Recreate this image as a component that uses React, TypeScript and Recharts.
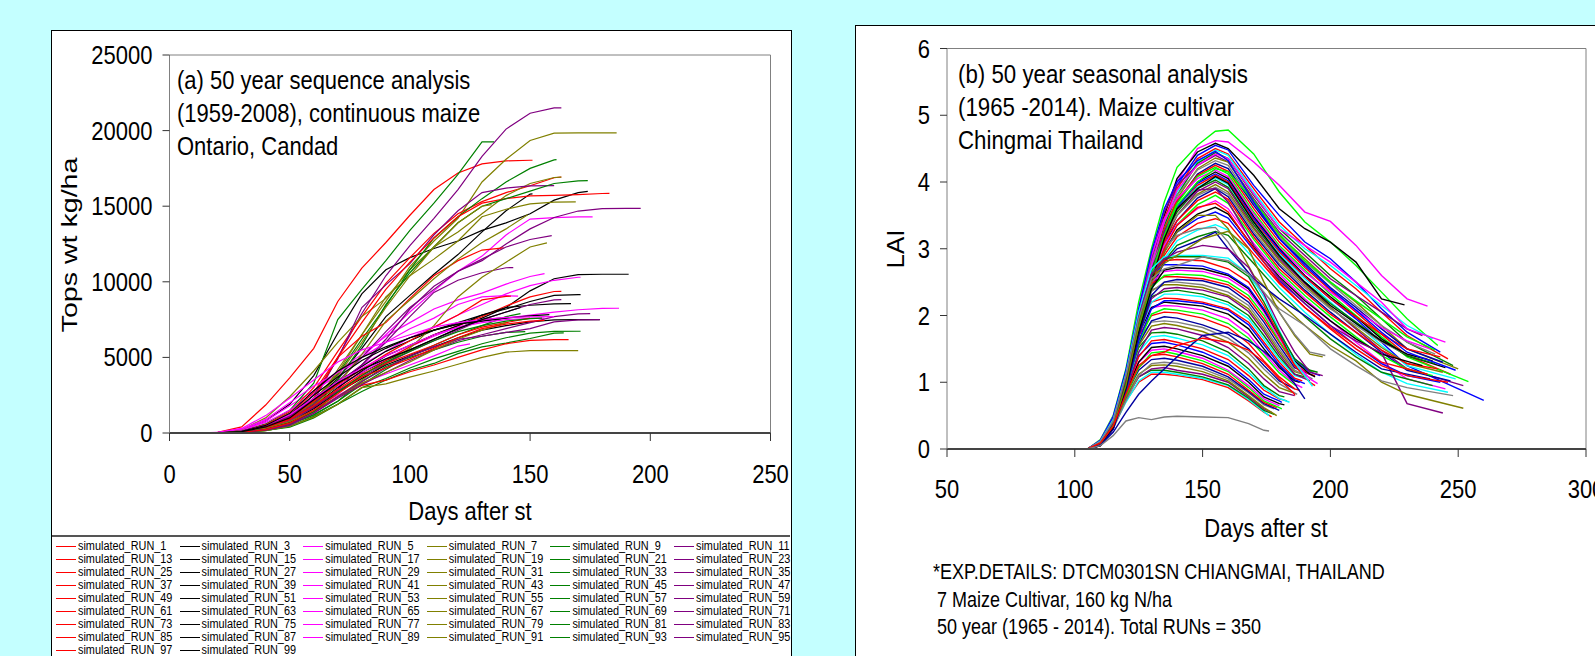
import { Legend, Line, LineChart, ReferenceLine, XAxis, YAxis } from "recharts"

const FONT = "'Liberation Sans', Arial, sans-serif"

// (a) Tops weight, read at these days; each run then ends at its own last day
const GROWTH_DAYS = [10, 20, 30, 40, 50, 60, 70, 80, 90, 100, 110, 120, 130, 140, 150, 160, 170, 180, 190]
const RUN_COLORS = ["#ff0000", "#000000", "#ff00ff", "#808000", "#008000", "#800080"]
const X_TICKS_A = [0, 50, 100, 150, 200, 250]
const Y_TICKS_A = [0, 5000, 10000, 15000, 20000, 25000]

const RED_TOPS = [
  [0, 40, 400, 1850, 3650, 5600, 8700, 10900, 12600, 14400, 16100, 17200, 17800, 18000, 18040],
  [0, 20, 120, 550, 1400, 3000, 5400, 7700, 9900, 11600, 13200, 14500, 15300, 15900, 16350, 16880],
  [0, 15, 90, 450, 1200, 2700, 5000, 7300, 9500, 11300, 12900, 14300, 15200, 15500, 15680, 15720, 15770, 15840],
  [0, 10, 60, 300, 800, 2300, 5000, 6400, 7300, 8900, 10400, 11400, 12100],
  [0, 10, 60, 280, 800, 1700, 2800, 3800, 4800, 5700, 6500, 7100, 7700, 8400, 9000, 9360],
  [0, 15, 90, 400, 1000, 2100, 3200, 4200, 5200, 6100, 7000, 7800, 8800, 9040],
  [0, 5, 40, 200, 600, 1400, 2400, 3150, 3500, 4050, 4500, 5000, 5500, 5900, 6130, 6170],
  [0, 10, 70, 320, 900, 1800, 2900, 3900, 4600, 5200, 5800, 6500, 7000, 7300],
  [0, 5, 40, 220, 650, 1500, 2600, 3700, 4300, 4900, 5600, 6300, 6900, 7200, 7400],
]
const RED_LAST = [[151, 18040], [163, 16930], [183, 15850], [139, 12240], [163, 9370], [142, 9050], [166, 6170], [150, 7600], [156, 7450]]

const BLACK_TOPS = [
  [0, 20, 180, 800, 1900, 3800, 6600, 9200, 10800, 11600, 12200, 12700, 13400, 13900, 14500, 15400, 15900],
  [0, 10, 80, 350, 900, 2100, 3600, 5600, 7700, 9100, 10500, 11800, 13300, 14700, 15800],
  [0, 10, 70, 300, 850, 2000, 3100, 4000, 4800, 5500, 6200, 6900, 7600, 8300, 9400, 10200, 10480, 10500, 10500],
  [0, 15, 100, 450, 1100, 2300, 3400, 4400, 5400, 6100, 6800, 7300, 7800, 8200, 8700, 9100, 9150],
  [0, 10, 60, 280, 800, 1800, 3000, 4100, 5100, 5800, 6500, 7100, 7800, 8300, 8450, 8540],
  [0, 20, 130, 500, 1200, 2500, 3700, 4800, 5600, 6300, 6800, 7200, 7400, 7600, 7750],
  [0, 8, 50, 250, 700, 1600, 2700, 3600, 4500, 5100, 5700, 6300, 6800, 7100, 7350, 7480, 7500],
  [0, 15, 110, 500, 1300, 2800, 4100, 5000, 5700, 6300, 6800, 7200, 7500],
  [0, 12, 90, 400, 1000, 2200, 3300, 4200, 4900, 5500, 6200, 6900, 7500, 8000],
]
const BLACK_LAST = [[174, 15980], [151, 15810], [191, 10500], [171, 9150], [167, 8560], [158, 7830], [179, 7500], [138, 7600], [146, 8300]]

const MAGENTA_TOPS = [
  [0, 30, 200, 800, 1800, 2800, 3800, 5000, 6500, 8000, 9400, 10700, 11700, 13100, 14150, 14250, 14290],
  [0, 25, 180, 700, 1500, 2600, 4100, 5200, 6400, 7300, 8200, 8800, 9250, 9850, 10350],
  [0, 10, 80, 400, 1000, 2100, 3300, 4500, 5400, 6300, 7000, 7800, 8500, 9200, 9750, 10100, 10300],
  [0, 15, 100, 450, 1050, 2200, 3100, 4000, 4900, 5700, 6400, 7000, 7400, 7600, 7800, 8000, 8150, 8240],
  [0, 35, 260, 900, 2000, 3100, 4000, 5000, 6000, 6900, 7600, 8500, 9000, 9080],
  [0, 10, 70, 300, 800, 1600, 2500, 3300, 3900, 4500, 5100, 5750],
  [0, 18, 120, 500, 1200, 2300, 3400, 4300, 5100, 5800, 6500, 7000, 7300, 7500, 7580],
  [0, 40, 300, 1150, 2300, 3500, 4700, 5500, 6000, 6500, 7000, 7300, 7500, 7650, 7680],
]
const MAGENTA_LAST = [[176, 14290], [156, 10540], [171, 10300], [187, 8250], [145, 9050], [125, 5890], [156, 7600], [160, 7700]]

const OLIVE_TOPS = [
  [0, 8, 60, 250, 700, 1700, 4200, 6500, 8700, 11000, 12700, 14200, 16600, 18100, 19350, 19830, 19850, 19850],
  [0, 30, 220, 1000, 2400, 4100, 6000, 7700, 8900, 10800, 12300, 13300, 14500, 15700, 16500, 16900],
  [0, 10, 70, 320, 900, 2100, 4000, 6500, 9000, 10400, 11500, 12700, 14300, 14800, 15150, 15270],
  [0, 10, 80, 350, 900, 2000, 3800, 6000, 8300, 10400, 12300, 13900, 15000],
  [0, 8, 60, 280, 800, 1800, 3200, 5200, 7400, 8800, 10200, 11500, 12600, 13500],
  [0, 8, 50, 220, 650, 1400, 2400, 3500, 4600, 5600, 7100, 9000, 10300, 11300, 12300],
  [0, 5, 30, 150, 450, 1050, 1900, 3000, 3250, 3700, 4100, 4550, 5000, 5350, 5450, 5450],
  [0, 10, 70, 300, 750, 1500, 2400, 3300, 4000, 4700, 5500, 6200, 6800],
]
const OLIVE_LAST = [[186, 19850], [163, 16920], [169, 15280], [134, 15100], [149, 14440], [157, 12570], [170, 5450], [140, 7300]]

const GREEN_TOPS = [
  [0, 20, 140, 600, 1500, 3300, 7500, 9500, 11400, 13400, 15200, 17100, 19250],
  [0, 10, 80, 350, 900, 2000, 3900, 6200, 8400, 10800, 12900, 14300, 15500, 16600, 17500, 18060],
  [0, 8, 60, 280, 800, 1900, 3500, 5800, 8500, 10600, 12300, 13900, 15000, 15500, 16000, 16500, 16680],
  [0, 8, 50, 220, 600, 1200, 2100, 3200, 4200, 5100, 5800, 6500, 7100, 7700],
  [0, 5, 30, 160, 450, 1100, 1900, 3000, 3600, 4300, 4900, 5400, 5900, 6300, 6600, 6720, 6730],
  [0, 5, 35, 170, 380, 1000, 1900, 2750, 3500, 4150, 4600, 5250, 5700, 5950, 6250, 6600],
  [0, 6, 40, 200, 550, 1200, 2100, 3400, 4400, 5000, 5500, 6000, 6400, 6650],
  [0, 8, 55, 240, 650, 1400, 2700, 3800, 4700, 5400, 6100, 6700, 7100, 7400, 7560],
]
const GREEN_LAST = [[135, 19250], [161, 18080], [174, 16690], [146, 7890], [171, 6730], [164, 6620], [148, 6700], [155, 7600]]

const PURPLE_TOPS = [
  [0, 10, 80, 350, 900, 2100, 5000, 7900, 10400, 12400, 14200, 16100, 18300, 20100, 21150, 21500],
  [0, 12, 90, 400, 1000, 2500, 4900, 8300, 9800, 11200, 13100, 14700, 15900, 16200, 16350],
  [0, 10, 70, 300, 800, 1700, 2900, 4500, 6200, 8200, 9700, 10700, 11400, 12500, 13500, 14250, 14680, 14840, 14860],
  [0, 10, 70, 320, 900, 1900, 3400, 5000, 6700, 8300, 9500, 10700, 11500, 12300, 12800],
  [0, 15, 100, 450, 1100, 2200, 3300, 4500, 6000, 7700, 9300, 10100, 10600, 10930],
  [0, 10, 70, 300, 800, 1700, 2800, 3700, 4600, 5400, 6100, 6800, 7500, 8000, 8500, 8800],
  [0, 6, 40, 190, 500, 1300, 2300, 3200, 4000, 4800, 5500, 6100, 6500, 6900, 7300, 7700, 7880],
  [0, 8, 50, 240, 600, 1300, 2400, 3400, 4300, 5100, 5700, 6200, 6400, 6650, 6900, 7350, 7480],
]
const PURPLE_LAST = [[163, 21500], [160, 16360], [196, 14860], [159, 13050], [143, 10940], [163, 8820], [175, 7890], [179, 7500]]

// (b) LAI. Rows are: last day, LAI on that day, then the LAI read on the day list
const X_TICKS_B = [50, 100, 150, 200, 250, 300]
const Y_TICKS_B = [0, 1, 2, 3, 4, 5, 6]
const LATE_DAYS = [105, 110, 115, 120, 125, 130, 135, 140, 148, 155, 160, 170, 180, 190, 200, 210, 220, 230]
const EARLY_DAYS = [105, 110, 115, 120, 125, 130, 135, 140, 150, 160, 168, 174, 180, 186, 192]
const LATE_LAI = [
  [242, 1.55, 0, 0.14, 0.5, 1.2, 2.2, 3.0, 3.7, 4.22, 4.55, 4.76, 4.78, 4.42, 3.85, 3.4, 3.1, 2.75, 2.35, 1.95],
  [238, 2.14, 0, 0.12, 0.45, 1.1, 2.0, 2.9, 3.5, 4.0, 4.5, 4.62, 4.6, 4.3, 3.95, 3.55, 3.41, 3.05, 2.6, 2.25],
  [229, 2.16, 0, 0.1, 0.4, 1.05, 2.0, 2.8, 3.5, 4.05, 4.45, 4.58, 4.5, 4.1, 3.6, 3.3, 3.1, 2.8, 2.25],
  [243, 1.45, 0, 0.08, 0.38, 1.0, 1.9, 2.75, 3.4, 3.95, 4.4, 4.55, 4.48, 3.95, 3.5, 3.1, 2.85, 2.5, 2.1, 1.75],
  [246, 1.35, 0, 0.1, 0.42, 1.08, 1.95, 2.7, 3.45, 3.9, 4.35, 4.5, 4.42, 3.9, 3.4, 3.05, 2.7, 2.4, 2.05, 1.7],
  [240, 1.65, 0, 0.06, 0.35, 0.95, 1.85, 2.65, 3.3, 3.85, 4.3, 4.48, 4.4, 3.85, 3.35, 3.0, 2.75, 2.45, 2.15, 1.85],
  [248, 1.25, 0, 0.09, 0.4, 1.02, 1.88, 2.7, 3.35, 3.8, 4.28, 4.44, 4.35, 3.8, 3.3, 2.95, 2.6, 2.3, 1.95, 1.6],
  [236, 1.7, 0, 0.12, 0.46, 1.12, 2.05, 2.85, 3.55, 3.95, 4.25, 4.4, 4.3, 3.75, 3.25, 2.9, 2.55, 2.3, 2.05, 1.8],
  [250, 1.2, 0, 0.07, 0.36, 0.98, 1.82, 2.6, 3.25, 3.75, 4.2, 4.36, 4.3, 3.72, 3.2, 2.85, 2.5, 2.2, 1.85, 1.5],
  [241, 1.42, 0, 0.11, 0.44, 1.1, 1.98, 2.8, 3.4, 3.8, 4.18, 4.32, 4.25, 3.68, 3.18, 2.8, 2.48, 2.15, 1.85, 1.6],
  [244, 1.3, 0, 0.05, 0.32, 0.9, 1.75, 2.55, 3.2, 3.7, 4.12, 4.28, 4.2, 3.65, 3.15, 2.78, 2.42, 2.12, 1.8, 1.5],
  [247, 1.12, 0, 0.09, 0.4, 1.02, 1.9, 2.65, 3.3, 3.72, 4.1, 4.25, 4.16, 3.6, 3.1, 2.72, 2.38, 2.05, 1.72, 1.4],
  [254, 1.01, 0, 0.08, 0.38, 0.98, 1.85, 2.6, 3.25, 3.68, 4.08, 4.22, 4.12, 3.55, 3.05, 2.68, 2.32, 2.0, 1.68, 1.38],
  [239, 1.5, 0, 0.13, 0.48, 1.15, 2.1, 2.9, 3.45, 3.75, 4.05, 4.18, 4.08, 3.52, 3.02, 2.65, 2.35, 2.08, 1.82, 1.62],
  [245, 1.22, 0, 0.06, 0.34, 0.92, 1.78, 2.55, 3.18, 3.62, 4.0, 4.15, 4.05, 3.48, 3.0, 2.6, 2.28, 1.98, 1.65, 1.4],
  [260, 0.73, 0, 0.1, 0.42, 1.05, 1.92, 2.65, 3.25, 3.62, 3.98, 4.12, 4.02, 3.45, 2.98, 2.58, 2.25, 1.95, 1.6, 1.25],
  [243, 1.38, 0, 0.07, 0.36, 0.95, 1.8, 2.55, 3.15, 3.58, 3.95, 4.1, 4.0, 3.42, 2.95, 2.58, 2.25, 1.98, 1.72, 1.5],
  [249, 1.05, 0, 0.09, 0.4, 1.0, 1.85, 2.6, 3.2, 3.6, 3.92, 4.06, 3.96, 3.4, 2.92, 2.55, 2.2, 1.88, 1.55, 1.25],
  [241, 1.28, 0, 0.11, 0.44, 1.08, 1.95, 2.7, 3.22, 3.55, 3.9, 4.03, 3.92, 3.36, 2.88, 2.5, 2.18, 1.9, 1.62, 1.4],
  [252, 0.95, 0, 0.05, 0.3, 0.88, 1.72, 2.48, 3.1, 3.5, 3.86, 4.0, 3.9, 3.32, 2.85, 2.48, 2.12, 1.8, 1.48, 1.2],
  [244, 1.15, 0, 0.08, 0.38, 0.98, 1.82, 2.58, 3.15, 3.5, 3.82, 3.96, 3.85, 3.3, 2.82, 2.45, 2.12, 1.82, 1.52, 1.28],
  [238, 1.35, 0, 0.12, 0.46, 1.12, 2.0, 2.75, 3.2, 3.5, 3.8, 3.92, 3.82, 3.26, 2.78, 2.42, 2.1, 1.85, 1.6, 1.42],
  [247, 1.02, 0, 0.06, 0.34, 0.9, 1.75, 2.5, 3.05, 3.42, 3.76, 3.9, 3.78, 3.22, 2.75, 2.38, 2.05, 1.75, 1.45, 1.18],
  [242, 1.2, 0, 0.1, 0.42, 1.02, 1.88, 2.6, 3.1, 3.42, 3.72, 3.85, 3.74, 3.18, 2.7, 2.35, 2.02, 1.75, 1.48, 1.28],
  [240, 1.1, 0, 0.07, 0.36, 0.95, 1.78, 2.5, 3.02, 3.36, 3.66, 3.8, 3.68, 3.14, 2.66, 2.3, 1.98, 1.68, 1.4, 1.2],
  [245, 0.9, 0, 0.09, 0.4, 1.0, 1.82, 2.55, 3.05, 3.36, 3.6, 3.72, 3.6, 3.08, 2.62, 2.25, 1.92, 1.6, 1.3, 1.05],
  [236, 1.25, 0, 0.05, 0.3, 0.85, 1.68, 2.42, 2.95, 3.28, 3.52, 3.62, 3.52, 3.02, 2.58, 2.22, 1.92, 1.65, 1.42],
  [243, 1.0, 0, 0.11, 0.44, 1.05, 1.9, 2.55, 2.98, 3.25, 3.45, 3.55, 3.46, 2.98, 2.52, 2.18, 1.85, 1.55, 1.28, 1.1],
  [238, 1.12, 0, 0.08, 0.36, 0.95, 1.75, 2.42, 2.9, 3.18, 3.38, 3.45, 3.38, 2.92, 2.48, 2.12, 1.82, 1.55, 1.3],
  [246, 0.85, 0, 0.06, 0.32, 0.88, 1.68, 2.38, 2.85, 3.12, 3.28, 3.36, 3.28, 2.85, 2.42, 2.05, 1.72, 1.42, 1.15, 0.98],
  [240, 0.95, 0, 0.09, 0.4, 1.0, 1.8, 2.42, 2.82, 3.05, 3.18, 3.26, 3.2, 2.78, 2.35, 1.98, 1.65, 1.38, 1.15],
  [244, 0.54, 0, 0.1, 0.42, 1.02, 1.85, 2.6, 3.25, 3.6, 3.88, 3.9, 3.7, 3.05, 2.55, 2.18, 1.85, 1.62, 1.44, 0.68],
  [252, 0.61, 0, 0.08, 0.38, 0.96, 1.75, 2.45, 2.95, 3.25, 3.5, 3.5, 3.3, 2.6, 2.2, 1.85, 1.55, 1.32, 1.0, 0.82],
  [248, 0.8, 0, 0.12, 0.46, 1.1, 1.95, 2.6, 3.0, 3.2, 3.3, 3.32, 3.1, 2.5, 2.1, 1.85, 1.5, 1.25, 1.02, 0.92],
  [239, 1.05, 0, 0.06, 0.34, 0.9, 1.7, 2.4, 2.8, 3.0, 3.12, 3.25, 3.0, 2.55, 2.25, 2.0, 1.72, 1.45, 1.2],
  [246, 1.0, 0, 0.09, 0.4, 1.0, 1.85, 2.5, 3.0, 3.35, 3.62, 3.68, 3.55, 3.0, 2.5, 2.12, 1.8, 1.5, 1.25, 1.1],
  [241, 1.48, 0, 0.07, 0.36, 0.96, 1.82, 2.6, 3.2, 3.65, 4.0, 4.2, 4.15, 3.72, 3.22, 2.82, 2.5, 2.22, 1.95, 1.68],
  [245, 1.6, 0, 0.1, 0.42, 1.06, 1.95, 2.75, 3.4, 3.88, 4.25, 4.42, 4.35, 3.82, 3.3, 3.05, 2.8, 2.5, 2.2, 1.8],
  [240, 1.32, 0, 0.05, 0.3, 0.85, 1.7, 2.5, 3.15, 3.6, 3.9, 4.08, 3.98, 3.4, 2.9, 2.5, 2.15, 1.88, 1.62, 1.42],
  [249, 1.18, 0, 0.12, 0.46, 1.15, 2.1, 2.95, 3.6, 4.0, 4.32, 4.46, 4.32, 3.7, 3.15, 2.75, 2.4, 2.08, 1.75, 1.45],
]
const EARLY_LAI = [
  [177, 0.48, 0, 0.1, 0.35, 0.72, 1.0, 1.12, 1.12, 1.1, 1.04, 0.92, 0.72, 0.55],
  [176, 0.5, 0, 0.08, 0.32, 0.7, 1.02, 1.15, 1.15, 1.12, 1.06, 0.95, 0.74, 0.56],
  [178, 0.52, 0, 0.12, 0.38, 0.78, 1.08, 1.18, 1.18, 1.15, 1.08, 0.96, 0.76, 0.58],
  [177, 0.55, 0, 0.09, 0.34, 0.75, 1.08, 1.2, 1.22, 1.18, 1.12, 1.0, 0.78, 0.6],
  [179, 0.5, 0, 0.11, 0.36, 0.78, 1.12, 1.25, 1.26, 1.24, 1.16, 1.02, 0.8, 0.62],
  [178, 0.6, 0, 0.07, 0.3, 0.72, 1.1, 1.28, 1.3, 1.28, 1.2, 1.05, 0.84, 0.66],
  [180, 0.58, 0, 0.1, 0.36, 0.82, 1.18, 1.34, 1.36, 1.33, 1.24, 1.08, 0.86, 0.68, 0.58],
  [179, 0.62, 0, 0.12, 0.4, 0.85, 1.22, 1.4, 1.42, 1.38, 1.28, 1.12, 0.88, 0.7],
  [181, 0.6, 0, 0.08, 0.32, 0.8, 1.22, 1.44, 1.46, 1.42, 1.32, 1.16, 0.92, 0.72, 0.62],
  [180, 0.65, 0, 0.11, 0.38, 0.88, 1.3, 1.48, 1.5, 1.46, 1.36, 1.18, 0.95, 0.75, 0.65],
  [182, 0.66, 0, 0.09, 0.35, 0.85, 1.3, 1.52, 1.54, 1.5, 1.4, 1.24, 1.0, 0.78, 0.68],
  [181, 0.7, 0, 0.12, 0.42, 0.95, 1.4, 1.58, 1.6, 1.56, 1.45, 1.28, 1.04, 0.82, 0.72],
  [183, 0.72, 0, 0.08, 0.32, 0.85, 1.38, 1.62, 1.64, 1.6, 1.5, 1.34, 1.1, 0.88, 0.75],
  [184, 0.7, 0, 0.1, 0.38, 0.92, 1.45, 1.68, 1.7, 1.66, 1.56, 1.4, 1.15, 0.92, 0.76],
  [182, 0.78, 0, 0.11, 0.4, 0.98, 1.52, 1.74, 1.75, 1.72, 1.62, 1.45, 1.2, 0.95, 0.8],
  [186, 0.8, 0, 0.07, 0.3, 0.85, 1.45, 1.78, 1.82, 1.8, 1.7, 1.52, 1.28, 1.05, 0.86, 0.8],
  [185, 0.85, 0, 0.1, 0.38, 0.95, 1.55, 1.84, 1.88, 1.85, 1.76, 1.6, 1.36, 1.12, 0.92],
  [187, 0.82, 0, 0.12, 0.44, 1.05, 1.65, 1.9, 1.92, 1.9, 1.82, 1.66, 1.44, 1.2, 0.98, 0.84],
  [186, 0.9, 0, 0.09, 0.34, 0.9, 1.58, 1.92, 1.98, 1.96, 1.86, 1.72, 1.5, 1.25, 1.02, 0.9],
  [188, 0.88, 0, 0.11, 0.4, 1.0, 1.7, 2.0, 2.05, 2.04, 1.96, 1.82, 1.58, 1.32, 1.08, 0.9],
  [187, 0.95, 0, 0.08, 0.32, 0.88, 1.6, 2.02, 2.1, 2.08, 2.02, 1.88, 1.66, 1.4, 1.14, 0.96],
  [189, 0.92, 0, 0.13, 0.46, 1.12, 1.85, 2.12, 2.15, 2.14, 2.08, 1.95, 1.72, 1.44, 1.18, 0.98],
  [188, 1.0, 0, 0.1, 0.38, 0.98, 1.72, 2.12, 2.2, 2.18, 2.14, 2.02, 1.8, 1.5, 1.22, 1.02],
  [190, 0.98, 0, 0.07, 0.3, 0.88, 1.62, 2.1, 2.22, 2.22, 2.18, 2.08, 1.86, 1.56, 1.26, 1.04],
  [189, 1.02, 0, 0.12, 0.44, 1.08, 1.85, 2.2, 2.26, 2.25, 2.2, 2.1, 1.9, 1.6, 1.3, 1.06],
  [191, 1.05, 0, 0.09, 0.36, 0.95, 1.72, 2.2, 2.32, 2.32, 2.28, 2.16, 1.95, 1.65, 1.34, 1.1],
  [190, 1.08, 0, 0.11, 0.4, 1.02, 1.82, 2.28, 2.36, 2.38, 2.32, 2.2, 2.0, 1.7, 1.38, 1.12],
  [192, 1.02, 0, 0.08, 0.32, 0.9, 1.7, 2.25, 2.4, 2.42, 2.38, 2.28, 2.06, 1.76, 1.42, 1.12],
  [191, 1.1, 0, 0.13, 0.46, 1.15, 1.98, 2.38, 2.46, 2.46, 2.42, 2.3, 2.1, 1.8, 1.46, 1.16],
  [193, 1.05, 0, 0.1, 0.38, 1.0, 1.82, 2.36, 2.5, 2.5, 2.46, 2.35, 2.15, 1.84, 1.5, 1.18],
  [192, 1.12, 0, 0.07, 0.3, 0.88, 1.7, 2.3, 2.5, 2.54, 2.52, 2.42, 2.2, 1.9, 1.55, 1.22],
  [194, 1.1, 0, 0.12, 0.44, 1.1, 1.95, 2.48, 2.58, 2.58, 2.55, 2.46, 2.25, 1.95, 1.6, 1.26, 1.12],
  [193, 1.15, 0, 0.09, 0.36, 0.98, 1.82, 2.42, 2.6, 2.62, 2.6, 2.5, 2.3, 2.0, 1.62, 1.28],
  [195, 0.98, 0, 0.11, 0.4, 1.05, 1.92, 2.5, 2.66, 2.68, 2.66, 2.56, 2.36, 2.05, 1.66, 1.3, 1.05],
  [194, 1.08, 0, 0.08, 0.32, 0.92, 1.75, 2.4, 2.68, 2.72, 2.7, 2.6, 2.4, 2.08, 1.7, 1.32, 1.12],
  [196, 1.1, 0, 0.13, 0.48, 1.18, 2.05, 2.62, 2.76, 2.76, 2.74, 2.62, 2.42, 2.1, 1.72, 1.35, 1.15],
  [194, 0.95, 0, 0.1, 0.4, 1.05, 1.95, 2.6, 2.82, 2.84, 2.82, 2.7, 2.5, 2.15, 1.7, 1.25, 1.0],
  [193, 0.94, 0, 0.12, 0.44, 1.12, 2.05, 2.7, 2.88, 2.9, 2.9, 2.86, 2.62, 2.28, 1.78, 1.3],
  [195, 1.15, 0, 0.09, 0.38, 1.0, 1.9, 2.6, 2.85, 2.88, 2.88, 2.8, 2.58, 2.2, 1.75, 1.35, 1.18],
  [197, 1.1, 0, 0.1, 0.4, 1.08, 1.98, 2.62, 2.85, 2.95, 3.05, 3.0, 2.72, 2.32, 1.85, 1.45, 1.15],
  [197, 1.38, 0, 0.08, 0.35, 0.95, 1.85, 2.5, 2.78, 2.9, 3.15, 3.26, 3.0, 2.5, 2.05, 1.7, 1.42],
  [198, 1.4, 0, 0.11, 0.42, 1.1, 1.95, 2.55, 2.7, 2.75, 2.88, 2.82, 2.62, 2.35, 2.05, 1.72, 1.45],
  [190, 0.75, 0, 0.06, 0.25, 0.55, 0.82, 1.02, 1.2, 1.38, 1.7, 1.75, 1.62, 1.46, 1.25, 0.98],
  [186, 0.8, 0, 0.09, 0.34, 0.82, 1.25, 1.4, 1.45, 1.55, 1.66, 1.6, 1.48, 1.3, 1.05, 0.82],
  [176, 0.27, 0, 0.05, 0.2, 0.42, 0.47, 0.44, 0.48, 0.49, 0.48, 0.47, 0.38, 0.28],
]

const buildRun = (tops: number[], last: number[]) => [
  ...tops.map((value, i) => ({ day: GROWTH_DAYS[i], value })),
  { day: last[0], value: last[1] },
]

const colorGroups = [
  [RED_TOPS, RED_LAST],
  [BLACK_TOPS, BLACK_LAST],
  [MAGENTA_TOPS, MAGENTA_LAST],
  [OLIVE_TOPS, OLIVE_LAST],
  [GREEN_TOPS, GREEN_LAST],
  [PURPLE_TOPS, PURPLE_LAST],
] as [number[][], number[][]][]

const runsA = Array.from({ length: 50 }, (_, n) => {
  const group = n % 6
  const k = Math.floor(n / 6)
  return {
    name: `simulated_RUN_${n * 2 + 1}`,
    color: RUN_COLORS[group],
    data: buildRun(colorGroups[group][0][k], colorGroups[group][1][k]),
  }
})

const LAI_COLORS = ["#00ff00", "#ff00ff", "#000000", "#0000ff", "#ff0000", "#00ffff", "#008000", "#800080", "#808000", "#808080", "#0000a0", "#ff0000"]

const buildLai = (row: number[], days: number[]) => [
  ...row.slice(2).map((value, i) => ({ day: days[i], value })),
  { day: row[0], value: row[1] },
]

const runsB = [
  ...LATE_LAI.map((row) => buildLai(row, LATE_DAYS)),
  ...EARLY_LAI.map((row) => buildLai(row, EARLY_DAYS)),
]

// text of the source is stretched vertically, so everything goes through here
const Stretched = ({ x, y, size = 22, sy = 1.18, anchor = "start", rotate = false, children }: any) => (
  <text
    transform={`translate(${x},${y}) scale(1,${sy})${rotate ? " rotate(-90)" : ""}`}
    textAnchor={anchor}
    fontFamily={FONT}
    fontSize={size}
    fill="#000"
  >
    {children}
  </text>
)

const XTick = ({ x, y, payload, dy }: any) => (
  <Stretched x={x} y={y + dy} anchor="middle">
    {payload.value}
  </Stretched>
)

const YTick = ({ x, y, payload, dx }: any) => (
  <Stretched x={x + dx} y={y + 9} anchor="end">
    {payload.value}
  </Stretched>
)

const RunLegend = ({ payload }: any) => (
  <div style={{ position: "relative", height: 119, borderTop: "2px solid #555", fontFamily: FONT, fontSize: 10.9, textAlign: "left" }}>
    {(payload || []).map((entry: any, i: number) => {
      const left = 4 + (i % 6) * 123.6
      const top = 2 + Math.floor(i / 6) * 13
      return (
        <div key={entry.value} style={{ position: "absolute", left, top, whiteSpace: "nowrap", height: 13, lineHeight: "13px" }}>
          <span style={{ position: "absolute", left: 0, top: 7, width: 20, height: 1, background: entry.color }} />
          <span style={{ position: "absolute", left: 22, top: 0, transform: "scaleY(1.22)" }}>{entry.value}</span>
        </div>
      )
    })}
  </div>
)

const axisColor = "#808080"

export default function App() {
  return (
    <div style={{ position: "fixed", left: 0, top: 0, width: 1595, height: 656, background: "#c4ffff", overflow: "hidden" }}>
      <div style={{ position: "absolute", left: 51, top: 30, width: 741, height: 640, background: "#fff", border: "1.5px solid #000", boxSizing: "border-box" }}>
        <LineChart width={738} height={625} margin={{ top: 24, right: 19.5, bottom: 0, left: 0 }}>
          <XAxis
            type="number"
            dataKey="day"
            domain={[0, 250]}
            ticks={X_TICKS_A}
            allowDataOverflow
            height={102}
            tickSize={8}
            interval={0}
            tick={<XTick dy={40} />}
            axisLine={{ stroke: "#444", strokeWidth: 2 }}
            tickLine={{ stroke: "#333" }}
            label={{ content: () => <Stretched x={418} y={489} anchor="middle">Days after st</Stretched> }}
          />
          <YAxis
            type="number"
            domain={[0, 25000]}
            ticks={Y_TICKS_A}
            width={117.5}
            tickSize={7}
            interval={0}
            tick={<YTick dx={-8} />}
            axisLine={{ stroke: axisColor }}
            tickLine={{ stroke: "#333" }}
            label={{ content: () => <Stretched x={25} y={214} anchor="middle" sy={1.3} rotate>Tops wt kg/ha</Stretched> }}
          />
          <ReferenceLine y={25000} stroke={axisColor} />
          <ReferenceLine x={250} stroke={axisColor} />
          {runsA.map((run) => (
            <Line key={run.name} name={run.name} data={run.data} dataKey="value" stroke={run.color} strokeWidth={1.2} dot={false} isAnimationActive={false} />
          ))}
          <Legend verticalAlign="bottom" itemSorter={null} wrapperStyle={{ left: 0, width: 738 }} content={<RunLegend />} />
          <Stretched x={125} y={58}>(a) 50 year sequence analysis</Stretched>
          <Stretched x={125} y={91}>(1959-2008), continuous maize</Stretched>
          <Stretched x={125} y={124}>Ontario, Candad</Stretched>
        </LineChart>
      </div>

      <div style={{ position: "absolute", left: 855, top: 25, width: 760, height: 650, background: "#fff", border: "1.5px solid #000", boxSizing: "border-box" }}>
        <LineChart width={757} height={647} margin={{ top: 22.5, right: 27, bottom: 0, left: 0 }}>
          <XAxis
            type="number"
            dataKey="day"
            domain={[50, 300]}
            ticks={X_TICKS_B}
            allowDataOverflow
            height={224}
            tickSize={8}
            interval={0}
            tick={<XTick dy={39} />}
            axisLine={{ stroke: "#444", strokeWidth: 2 }}
            tickLine={{ stroke: "#333" }}
            label={{ content: () => <Stretched x={410} y={511} anchor="middle">Days after st</Stretched> }}
          />
          <YAxis
            type="number"
            domain={[0, 6]}
            ticks={Y_TICKS_B}
            width={91}
            tickSize={7}
            interval={0}
            tick={<YTick dx={-8} />}
            axisLine={{ stroke: axisColor }}
            tickLine={{ stroke: "#333" }}
            label={{ content: () => <Stretched x={48} y={223} anchor="middle" size={24.5} sy={1.06} rotate>LAI</Stretched> }}
          />
          <ReferenceLine y={6} stroke={axisColor} />
          <ReferenceLine x={300} stroke={axisColor} />
          {runsB.map((data, i) => (
            <Line key={i} data={data} dataKey="value" stroke={i === runsB.length - 1 ? "#808080" : LAI_COLORS[i % LAI_COLORS.length]} strokeWidth={1.4} dot={false} isAnimationActive={false} />
          ))}
          <Stretched x={102} y={57} size={22.3}>(b) 50 year seasonal analysis</Stretched>
          <Stretched x={102} y={90} size={22.3}>(1965 -2014). Maize cultivar</Stretched>
          <Stretched x={102} y={123} size={22.3}>Chingmai Thailand</Stretched>
          <Stretched x={77} y={553} size={18}>*EXP.DETAILS: DTCM0301SN CHIANGMAI, THAILAND</Stretched>
          <Stretched x={81} y={581} size={18}>7 Maize Cultivar, 160 kg N/ha</Stretched>
          <Stretched x={81} y={608} size={18}>50 year (1965 - 2014). Total RUNs = 350</Stretched>
        </LineChart>
      </div>
    </div>
  )
}
